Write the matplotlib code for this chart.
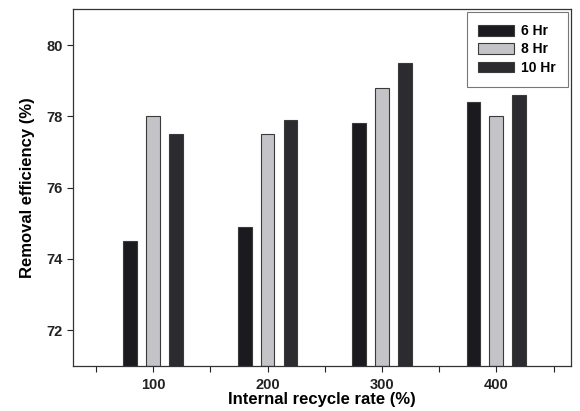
import matplotlib
matplotlib.use("Agg")
import matplotlib.pyplot as plt
import numpy as np

categories = [100, 200, 300, 400]
series_names = ["6 Hr", "8 Hr", "10 Hr"]
hr6 = [74.5, 74.9, 77.8, 78.4]
hr8 = [78.0, 77.5, 78.8, 78.0]
hr10 = [77.5, 77.9, 79.5, 78.6]
yticks = [72, 74, 76, 78, 80]

plt.rcParams['font.family'] = ['Liberation Sans', 'DejaVu Sans']
plt.rcParams['font.weight'] = 'bold'

fig = plt.figure(figsize=(5.8, 4.11), dpi=100)
ax = fig.add_axes([0.126, 0.11, 0.858, 0.867])

x = np.array(categories, dtype=float)
offsets = [-20, 0, 20]
colors = ['#1b1b1f', '#c4c4c8', '#2c2c30']
for vals, off, c, name in zip([hr6, hr8, hr10], offsets, colors, series_names):
    ax.bar(x + off, np.array(vals) - 71, bottom=71, width=12, color=c,
           edgecolor='#3a3a3a', linewidth=0.8, label=name)

ax.set_xlim(30, 465)
ax.set_ylim(71, 81)
ax.set_yticks(yticks)
ax.set_xticks(categories)
ax.set_xticks([50, 150, 250, 350, 450], minor=True)
ax.tick_params(axis='both', which='both', direction='out', length=4, width=0.8,
               labelsize=10.5, colors='#222222')
ax.tick_params(axis='x', which='major', pad=5)
for lab in ax.get_xticklabels() + ax.get_yticklabels():
    lab.set_fontweight('bold')
ax.set_xlabel('Internal recycle rate (%)', fontsize=12, fontweight='bold', labelpad=0)
ax.set_ylabel('Removal efficiency (%)', fontsize=12, fontweight='bold', labelpad=8)
for s in ax.spines.values():
    s.set_linewidth(0.9)
    s.set_color('#333333')

leg = ax.legend(loc='upper right', fontsize=10, frameon=True, fancybox=False,
                edgecolor='#555555', handlelength=2.6, handleheight=0.8,
                borderpad=0.85, labelspacing=0.32, borderaxespad=0.2,
                handletextpad=0.5)
leg.get_frame().set_linewidth(0.8)
for t in leg.get_texts():
    t.set_fontweight('bold')

fig.savefig('out.png', dpi=100)
